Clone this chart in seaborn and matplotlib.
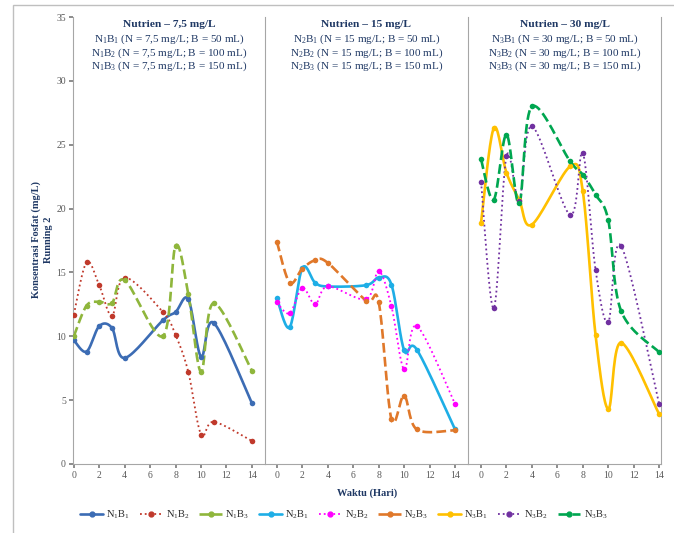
import numpy as np
import matplotlib
matplotlib.use("Agg")
import matplotlib.pyplot as plt
from matplotlib.lines import Line2D
from matplotlib.patches import Rectangle
import seaborn as sns

# Hari pengamatan (same for all series)
days = [0, 1, 2, 3, 4, 7, 8, 9, 10, 11, 14]

# Nutrien 7,5 mg/L
n1b1 = [9.7, 8.8, 10.8, 10.65, 8.3, 11.25, 11.9, 12.9, 8.4, 11.05, 4.75]
n1b2 = [11.7, 15.8, 14.0, 11.6, 14.6, 11.9, 10.1, 7.2, 2.3, 3.3, 1.8]
n1b3 = [10.0, 12.4, 12.7, 12.6, 14.4, 10.0, 17.1, 13.3, 7.2, 12.6, 7.3]
# Nutrien 15 mg/L
n2b1 = [13.0, 10.7, 15.35, 14.2, 13.9, 14.0, 14.6, 14.05, 8.9, 8.95, 2.7]
n2b2 = [12.65, 11.8, 13.8, 12.5, 13.9, 12.9, 15.1, 12.35, 7.4, 10.8, 4.7]
n2b3 = [17.4, 14.2, 15.3, 15.95, 15.75, 12.8, 12.65, 3.5, 5.35, 2.7, 2.65]
# Nutrien 30 mg/L
n3b1 = [18.9, 26.3, 22.8, 20.7, 18.75, 23.3, 21.35, 10.1, 4.3, 9.5, 3.9]
n3b2 = [22.1, 12.2, 24.1, 20.6, 26.45, 19.5, 24.35, 15.2, 11.1, 17.1, 4.7]
n3b3 = [23.85, 20.7, 25.8, 20.4, 28.0, 23.7, 22.65, 21.1, 19.1, 12.0, 8.75]

panel_titles = ["Nutrien \u2013 7,5 mg/L", "Nutrien \u2013 15 mg/L", "Nutrien \u2013 30 mg/L"]
panel_n = ["7,5", "15", "30"]
volumes = ["50", "100", "150"]

navy = "#1f3864"
grey = "#7f7f7f"
colors = [["#3c6cb4", "#c0392b", "#8fb63c"],
          ["#1eaee6", "#ff00ff", "#e0782a"],
          ["#ffc000", "#7030a0", "#00a650"]]
styles = ["-", ":", "--"]
series = [[n1b1, n1b2, n1b3], [n2b1, n2b2, n2b3], [n3b1, n3b2, n3b3]]


def smooth(x, y, n=20):
    # Excel-like smoothed line (Catmull-Rom Bezier through the points)
    p = np.column_stack([x, y]).astype(float)
    p = np.vstack([p[0], p, p[-1]])
    out = []
    t = np.linspace(0, 1, n)[:, None]
    for i in range(1, len(p) - 2):
        p0, p1, p2, p3 = p[i - 1], p[i], p[i + 1], p[i + 2]
        b1 = p1 + (p2 - p0) / 6
        b2 = p2 - (p3 - p1) / 6
        seg = ((1 - t) ** 3) * p1 + 3 * ((1 - t) ** 2) * t * b1 + 3 * (1 - t) * t ** 2 * b2 + t ** 3 * p2
        out.append(seg)
    out = np.vstack(out)
    return out[:, 0], out[:, 1]


sns.set_theme(style="white")
plt.rcParams["font.family"] = ["Liberation Serif", "DejaVu Serif"]
plt.rcParams["mathtext.fontset"] = "custom"
plt.rcParams["mathtext.rm"] = "Liberation Serif"
plt.rcParams["mathtext.it"] = "Liberation Serif:italic"
plt.rcParams["mathtext.bf"] = "Liberation Serif:bold"

fig = plt.figure(figsize=(6.74, 5.33), dpi=100)
gs = fig.add_gridspec(1, 3, width_ratios=[192, 203, 193], wspace=0,
                      left=0.108, right=0.981, top=0.968, bottom=0.1295)
xlims = [(-0.08, 15.02), (-0.94, 15.02), (-1.02, 14.16)]

handles = []
axes = []
for k in range(3):
    ax = fig.add_subplot(gs[0, k], sharey=axes[0] if axes else None)
    axes.append(ax)
    for j in range(3):
        vals = series[k][j]
        c = colors[k][j]
        ls = styles[j]
        lw = 1.3 if ls == ":" else 1.9
        sx, sy = smooth(days, vals)
        ax.plot(sx, sy, color=c, lw=lw, ls=ls, zorder=2)
        sns.scatterplot(x=days, y=vals, color=c, s=16, edgecolor=c, linewidth=0, ax=ax, zorder=3)
        handles.append(Line2D([0], [0], color=c, lw=lw, ls=ls, marker="o", markersize=3.5,
                              label=f"N$_{k+1}$B$_{j+1}$"))
    ax.set_xlim(*xlims[k])
    ax.set_ylim(0, 35)
    ax.set_xticks(range(0, 15, 2))
    ax.set_yticks(range(0, 36, 5))
    ax.tick_params(axis="x", length=3, color=grey, labelsize=7, labelcolor="#595959", pad=2, direction="out", bottom=True)
    ax.tick_params(axis="y", length=3, color=grey, labelsize=7, labelcolor="#595959", pad=2, direction="out")
    if k > 0:
        ax.tick_params(axis="y", left=False, labelleft=False)
    else:
        ax.tick_params(axis="y", left=True)
    for s in ax.spines.values():
        s.set_color("#a6a6a6")
        s.set_linewidth(0.8)
    ax.spines["top"].set_visible(False)
    ax.spines["right"].set_visible(k == 2)
    ax.set_xlabel("")
    ax.set_ylabel("")
    ax.text(0.5, 0.983, panel_titles[k], transform=ax.transAxes, ha="center", va="center",
            fontsize=8.2, fontweight="bold", color=navy)
    for j in range(3):
        ax.text(0.5, 0.951 - j * 0.031,
                f"N$_{k+1}$B$_{j+1}$ (N = {panel_n[k]} mg/L; B = {volumes[j]} mL)",
                transform=ax.transAxes, ha="center", va="center", fontsize=8, color=navy)

fig.text(0.063, 0.55, "Konsentrasi Fosfat (mg/L)\nRunning 2", rotation=90, ha="center", va="center",
         fontsize=7.5, fontweight="bold", color=navy, linespacing=1.45)
fig.text(0.545, 0.075, "Waktu (Hari)", ha="center", va="center", fontsize=7.5,
         fontweight="bold", color=navy)
fig.legend(handles=handles, loc="center", bbox_to_anchor=(0.51, 0.034), ncol=9, frameon=False,
           fontsize=7.5, handlelength=2.2, handletextpad=0.3, columnspacing=0.95)

fig.patches.append(Rectangle((0.019, -0.01), 0.99, 1.0, transform=fig.transFigure,
                             fill=False, edgecolor="#bfbfbf", lw=1.0))

fig.savefig("out.png", dpi=100)
